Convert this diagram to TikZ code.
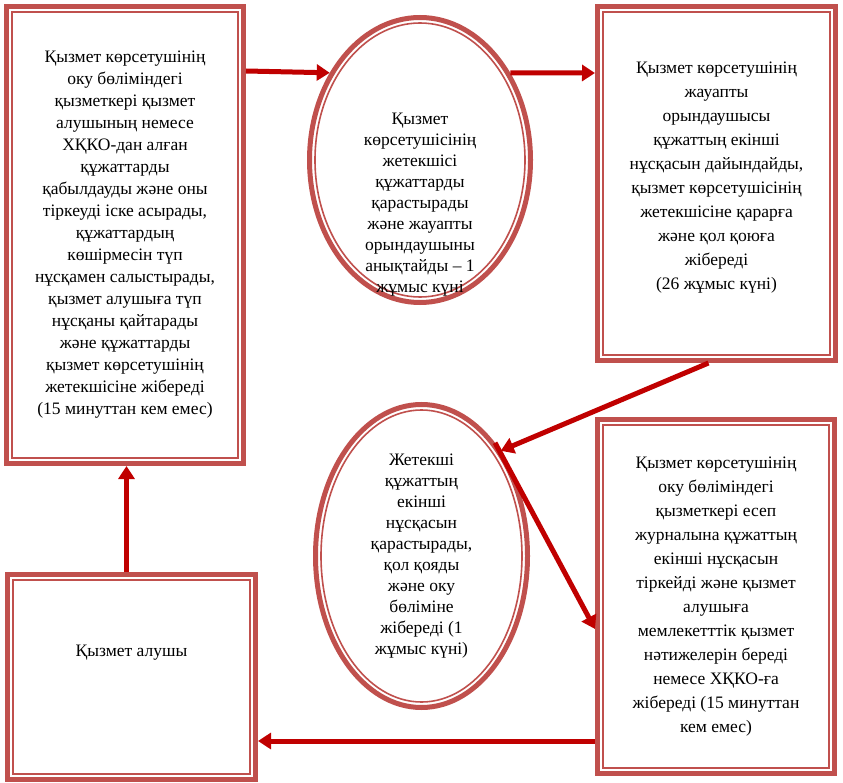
\documentclass[tikz,border=0pt]{standalone}
\usepackage{fontspec}
\setmainfont{Liberation Serif}
\usepackage{tikz}
\usetikzlibrary{shapes.geometric, arrows.meta, positioning, calc}
\usepackage{xcolor}
\definecolor{FrameRed}{HTML}{C0504D}
\definecolor{ArrowRed}{HTML}{C00000}
\definecolor{PageWhite}{HTML}{FFFFFF}
\tikzset{
    % Text of all nodes
    every node/.style={font=\fontsize{17.5}{22}\selectfont},
    % Rectangular step with double frame
    stepbox/.style={
        rectangle,
        draw=FrameRed,
        fill=PageWhite,
        line width=5pt,
        inner sep=0pt,
        align=center,
        path picture={
            \draw[FrameRed, line width=1.6pt]
                ([shift={(5.5pt,5.5pt)}]path picture bounding box.south west) rectangle
                ([shift={(-5.5pt,-5.5pt)}]path picture bounding box.north east);
        }
    },
    % Oval step with double frame
    stepoval/.style={
        ellipse,
        draw=FrameRed,
        fill=PageWhite,
        line width=5pt,
        inner sep=-50pt,
        align=center,
        path picture={
            \draw[FrameRed, line width=1.6pt]
                let \p1=(path picture bounding box.north east),
                    \p2=(path picture bounding box.center) in
                (\p2) ellipse [x radius=\x1-\x2-5.5pt, y radius=\y1-\y2-5.5pt];
        }
    },
    % Arrow style
    flow/.style={
        -{Triangle[length=13pt,width=16pt]},
        draw=ArrowRed,
        line width=5pt
    }
}
\begin{document}
\begin{tikzpicture}[x=1pt, y=-1pt]
    \useasboundingbox (0,0) rectangle (843,783);

    \node (reception) [stepbox, minimum width=237pt, minimum height=457pt] at (125,235)
        {Қызмет көрсетушінің\\оку бөліміндегі\\қызметкері қызмет\\алушының немесе\\ХҚКО-дан алған\\құжаттарды\\қабылдауды және оны\\тіркеуді іске асырады,\\құжаттардың\\көшірмесін түп\\нұсқамен салыстырады,\\қызмет алушыға түп\\нұсқаны қайтарады\\және құжаттарды\\қызмет көрсетушінің\\жетекшісіне жібереді\\(15 минуттан кем емес)};

    \node (head) [stepoval, minimum width=221pt, minimum height=285pt,
                  font=\fontsize{17.5}{21}\selectfont] at (420,160)
        {\mbox{}\\[80pt]Қызмет\\көрсетушісінің\\жетекшісі\\құжаттарды\\қарастырады\\және жауапты\\орындаушыны\\анықтайды – 1\\жұмыс күні};

    \node (executor) [stepbox, minimum width=238pt, minimum height=354pt,
                      font=\fontsize{17.5}{24}\selectfont] at (716.5,183.5)
        {Қызмет көрсетушінің\\жауапты\\орындаушысы\\құжаттың екінші\\нұсқасын дайындайды,\\қызмет көрсетушісінің\\жетекшісіне қарарға\\және қол қоюға\\жібереді\\(26 жұмыс күні)\\[-8pt]\mbox{}};

    \node (signing) [stepoval, minimum width=212pt, minimum height=303pt,
                     font=\fontsize{17.5}{21}\selectfont] at (421.5,556)
        {Жетекші\\құжаттың\\екінші\\нұсқасын\\қарастырады,\\қол қояды\\және оку\\бөліміне\\жібереді (1\\жұмыс күні)};

    \node (issue) [stepbox, minimum width=237pt, minimum height=354pt,
                   font=\fontsize{17.5}{24}\selectfont] at (716,596.5)
        {Қызмет көрсетушінің\\оку бөліміндегі\\қызметкері есеп\\журналына құжаттың\\екінші нұсқасын\\тіркейді және қызмет\\алушыға\\мемлекетттік қызмет\\нәтижелерін береді\\немесе ХҚКО-ға\\жібереді (15 минуттан\\кем емес)};

    \node (client) [stepbox, minimum width=248pt, minimum height=205pt] at (131.5,677)
        {Қызмет алушы\\[30pt]\mbox{}};

    % Flow between the steps
    \draw [flow] ([yshift=-67pt]reception.north east) -- (head.136);
    \draw [flow] (head.44) -- ([yshift=-69pt]executor.north west);
    \draw [flow] ([xshift=-8pt]executor.south) -- (signing.53);
    \draw [flow] (signing.57) -- ([yshift=-212pt]issue.north west);
    \draw [flow] ([yshift=-324pt]issue.north west) coordinate (back) -- (client.east |- back);
    \draw [flow] ([xshift=-5pt]client.north) coordinate (up) -- (up |- reception.south);
\end{tikzpicture}
\end{document}
